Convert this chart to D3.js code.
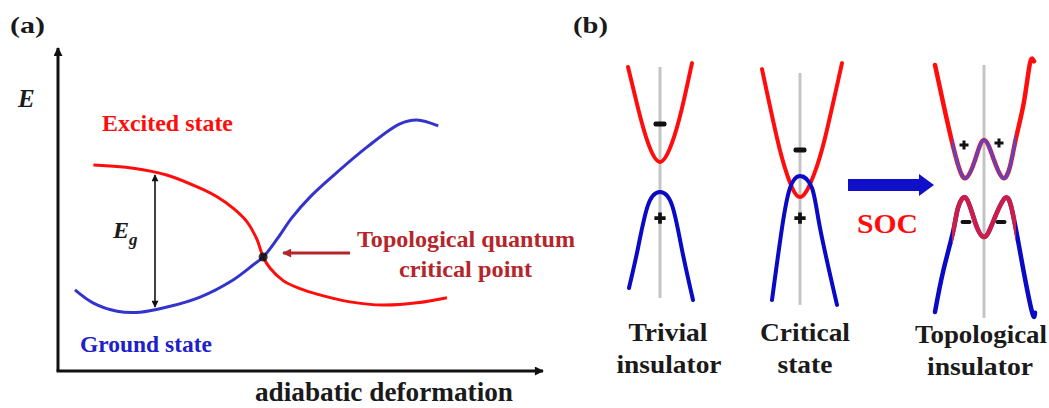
<!DOCTYPE html>
<html>
<head>
<meta charset="utf-8">
<script src="https://cdn.jsdelivr.net/npm/d3@7"></script>
<style>
  body { margin: 0; background: #fff; }
  svg { display: block; }
</style>
</head>
<body>
<svg id="chart" width="1049" height="408"></svg>
<script>
// ---- panel (a): levels vs adiabatic deformation, axis units 0..10 ----
const EXCITED = [[0.73, 6.38], [1.55, 6.28], [2.24, 6.07], [2.93, 5.66], [3.27, 5.4], [3.61, 5.04],
    [3.89, 4.63], [4.1, 4.08], [4.23, 3.53], [4.37, 3.19], [4.65, 2.79], [4.99, 2.55],
    [5.34, 2.38], [6.02, 2.14], [6.71, 2.04], [7.4, 2.11], [8.02, 2.27]];
const GROUND = [[0.35, 2.51], [0.72, 2.11], [1.22, 1.85], [1.69, 1.82], [2.25, 1.98], [2.93, 2.29],
    [3.61, 2.82], [4.02, 3.28], [4.23, 3.53], [4.52, 4.09], [4.82, 4.74], [5.2, 5.39],
    [5.67, 6.04], [6.37, 6.93], [7.05, 7.65], [7.4, 7.77], [7.84, 7.59]];
const GAP_X = 2.0;
const GAP_Y = [1.98, 6.07];
const CRITICAL_POINT = [4.23, 3.53];
const POINTER = [[6.02, 3.65], [4.64, 3.65]];

// ---- panel (b): band sketches, k in -1..1, E in -5..5 ----
const BAND_NAMES = ["trivial", "critical", "topological"];
const BAND_CENTERS = [660, 800, 984];
const MIDLINE = [[4.73, -4.15], [4.5, -4.42], [4.81, -4.92]];

const TRIVIAL_CB = [[-0.64, 4.73], [-0.44, 3.15], [-0.24, 1.81], [0, 1.08], [0.24, 1.81], [0.44, 3.15], [0.64, 4.88]];
const TRIVIAL_VB = [[-0.62, -3.77], [-0.44, -2.23], [-0.24, -0.58], [0, -0.08], [0.24, -0.58], [0.44, -2.3], [0.66, -4.23]];
const CRITICAL_CB = [[-0.76, 4.65], [-0.46, 2.0], [-0.26, 0.6], [0, -0.27], [0.28, 0.6], [0.5, 2.0], [0.84, 4.88]];
const CRITICAL_VB = [[-0.56, -4.23], [-0.36, -1.46], [-0.2, 0.08], [0, 0.54], [0.24, 0.08], [0.4, -1.46], [0.74, -4.42]];
const TOPO_CB = [[-0.98, 4.81], [-0.8, 3.2], [-0.64, 1.85], [-0.5, 0.85], [-0.36, 0.46], [-0.18, 1.15], [0, 1.92],
    [0.2, 1.15], [0.38, 0.46], [0.52, 0.9], [0.64, 2.0], [0.8, 3.4], [0.92, 4.88], [1.0, 4.95]];
const TOPO_VB = [[-0.98, -4.69], [-0.82, -3.15], [-0.62, -1.62], [-0.52, -0.69], [-0.36, -0.31], [-0.18, -1.23], [0, -1.81],
    [0.18, -1.23], [0.42, -0.31], [0.56, -0.77], [0.66, -1.73], [0.78, -3.0], [0.96, -4.69], [1.02, -4.72]];
const TOPO_INVERTED_K = [-0.64, 0.64];

const TRIVIAL_SIGNS = [["-", 0, 2.54], ["+", 0, -1.08]];
const CRITICAL_SIGNS = [["-", 0, 1.54], ["+", 0, -1.08]];
const TOPO_SIGNS = [["+", -0.4, 1.73], ["+", 0.3, 1.81], ["-", -0.36, -1.23], ["-", 0.34, -1.23]];

const BAND_LABELS = [["Trivial", "insulator"], ["Critical", "state"], ["Topological", "insulator"]];

const RED = "#ff0d0d";
const BLUE = "#0a0ac4";
const DARK_RED = "#b5262b";
const SERIF = "'Liberation Serif', 'Times New Roman', serif";

const svg = d3.select("#chart");
const defs = svg.append("defs");

const addMarker = (id, w, h, color) => {
    defs.append("marker")
        .attr("id", id)
        .attr("viewBox", "0 0 10 10")
        .attr("refX", 9).attr("refY", 5)
        .attr("markerUnits", "userSpaceOnUse")
        .attr("markerWidth", w).attr("markerHeight", h)
        .attr("orient", "auto-start-reverse")
        .append("path").attr("d", "M0,0 L10,5 L0,10 Z").attr("fill", color);
};
addMarker("axis-head", 11, 9, "#111");
addMarker("gap-head", 8, 7, "#111");
addMarker("pointer-head", 10, 9, DARK_RED);

const label = (g, str, x, y, size, opts = {}) => {
    const t = g.append("text")
        .attr("x", x).attr("y", y)
        .attr("font-family", SERIF)
        .attr("font-weight", "bold")
        .attr("font-size", size)
        .attr("fill", opts.fill || "#1a1a1a")
        .attr("text-anchor", opts.anchor || "start")
        .text(str);
    if (opts.width) t.attr("textLength", opts.width).attr("lengthAdjust", "spacingAndGlyphs");
    if (opts.italic) t.attr("font-style", "italic");
    return t;
};

// ================= panel (a) =================
const xa = d3.scaleLinear().domain([0, 10]).range([58, 543]);
const ya = d3.scaleLinear().domain([0, 10]).range([371, 48]);
const ga = svg.append("g");

label(ga, "(a)", 10, 33, 24, { width: 35 });

ga.append("line")
    .attr("x1", xa(0)).attr("y1", ya(0)).attr("x2", xa(0)).attr("y2", ya(10))
    .attr("stroke", "#111").attr("stroke-width", 3).attr("marker-end", "url(#axis-head)");
ga.append("line")
    .attr("x1", xa(0) - 1.5).attr("y1", ya(0)).attr("x2", xa(10)).attr("y2", ya(0))
    .attr("stroke", "#111").attr("stroke-width", 3).attr("marker-end", "url(#axis-head)");

const lineA = d3.line().x((d) => xa(d[0])).y((d) => ya(d[1])).curve(d3.curveCatmullRom.alpha(0.5));

ga.append("path").attr("d", lineA(EXCITED))
    .attr("fill", "none").attr("stroke", RED).attr("stroke-width", 3);
ga.append("path").attr("d", lineA(GROUND))
    .attr("fill", "none").attr("stroke", "#3434cc").attr("stroke-width", 3);

ga.append("line")
    .attr("x1", xa(GAP_X)).attr("y1", ya(GAP_Y[0]))
    .attr("x2", xa(GAP_X)).attr("y2", ya(GAP_Y[1]))
    .attr("stroke", "#111").attr("stroke-width", 1.6)
    .attr("marker-start", "url(#gap-head)").attr("marker-end", "url(#gap-head)");

ga.append("circle")
    .attr("cx", xa(CRITICAL_POINT[0])).attr("cy", ya(CRITICAL_POINT[1]))
    .attr("r", 4.5).attr("fill", "#111").attr("opacity", 0.85);

ga.append("line")
    .attr("x1", xa(POINTER[0][0])).attr("y1", ya(POINTER[0][1]))
    .attr("x2", xa(POINTER[1][0])).attr("y2", ya(POINTER[1][1]))
    .attr("stroke", DARK_RED).attr("stroke-width", 3).attr("marker-end", "url(#pointer-head)");

label(ga, "E", 18, 107, 25, { italic: true });
const eg = label(ga, "E", 113, 238, 24, { italic: true });
eg.append("tspan").attr("dy", 7).attr("font-size", 17).text("g");

label(ga, "Excited state", 102, 131, 23, { fill: RED, width: 131 });
label(ga, "Ground state", 80, 352, 23, { fill: "#2020c8", width: 132 });
label(ga, "Topological quantum", 357, 247, 24, { fill: DARK_RED, width: 218 });
label(ga, "critical point", 399, 277, 24, { fill: DARK_RED, width: 133 });
label(ga, "adiabatic deformation", 255, 401, 28, { width: 258 });

// ================= panel (b) =================
const gb = svg.append("g");
label(gb, "(b)", 573, 33, 24, { width: 35 });

const yb = d3.scaleLinear().domain([-5, 5]).range([320, 60]);
const kb = d3.scaleLinear().domain([-1, 1]).range([-50, 50]);
const lineB = d3.line().x((d) => kb(d[0])).y((d) => yb(d[1])).curve(d3.curveNatural);

const BANDS = [[TRIVIAL_CB, TRIVIAL_VB], [CRITICAL_CB, CRITICAL_VB], [TOPO_CB, TOPO_VB]];
const SIGNS = [TRIVIAL_SIGNS, CRITICAL_SIGNS, TOPO_SIGNS];

defs.append("clipPath").attr("id", "inverted")
    .append("rect")
    .attr("x", kb(TOPO_INVERTED_K[0])).attr("y", 0)
    .attr("width", kb(TOPO_INVERTED_K[1]) - kb(TOPO_INVERTED_K[0])).attr("height", 408);

BAND_NAMES.forEach((name, i) => {
    const g = gb.append("g").attr("class", name).attr("transform", `translate(${BAND_CENTERS[i]},0)`);
    g.append("line")
        .attr("x1", 0).attr("x2", 0)
        .attr("y1", yb(MIDLINE[i][0])).attr("y2", yb(MIDLINE[i][1]))
        .attr("stroke", "#c4c4c4").attr("stroke-width", 3);

    const [cb, vb] = BANDS[i];
    if (name === "topological") {
        g.append("path").attr("d", lineB(cb)).attr("fill", "none")
            .attr("stroke", RED).attr("stroke-width", 4.5).attr("stroke-linecap", "round");
        g.append("path").attr("d", lineB(cb)).attr("fill", "none").attr("clip-path", "url(#inverted)")
            .attr("stroke", "#4a4ad6").attr("stroke-width", 3).attr("opacity", 0.9);
        g.append("path").attr("d", lineB(vb)).attr("fill", "none")
            .attr("stroke", BLUE).attr("stroke-width", 4.5).attr("stroke-linecap", "round");
        g.append("path").attr("d", lineB(vb)).attr("fill", "none").attr("clip-path", "url(#inverted)")
            .attr("stroke", "#f02030").attr("stroke-width", 4.5).attr("opacity", 0.85);
    } else {
        g.append("path").attr("d", lineB(cb)).attr("fill", "none")
            .attr("stroke", RED).attr("stroke-width", 4).attr("stroke-linecap", "round");
        g.append("path").attr("d", lineB(vb)).attr("fill", "none")
            .attr("stroke", BLUE).attr("stroke-width", 4).attr("stroke-linecap", "round");
    }

    const small = name === "topological";
    SIGNS[i].forEach(([s, k, e]) => {
        if (s === "+") {
            g.append("path")
                .attr("d", d3.symbol(d3.symbolCross, small ? 45 : 70)())
                .attr("transform", `translate(${kb(k)},${yb(e)})`)
                .attr("fill", "#111");
        } else {
            const w = small ? 11 : 13, h = small ? 4 : 5;
            g.append("rect")
                .attr("x", kb(k) - w / 2).attr("y", yb(e) - h / 2)
                .attr("width", w).attr("height", h).attr("rx", 2)
                .attr("fill", "#111");
        }
    });

    const [l1, l2] = BAND_LABELS[i];
    const w1 = [79, 90, 132][i], w2 = [105, 55, 106][i];
    label(gb, l1, BAND_CENTERS[i] + [8, 5, -3][i], [341, 341, 343][i], 26, { anchor: "middle", width: w1 });
    label(gb, l2, BAND_CENTERS[i] + [9, 5, -4][i], [373, 373, 375][i], 26, { anchor: "middle", width: w2 });
});

// SOC arrow
gb.append("path")
    .attr("d", "M848,179 L919,179 L919,174 L934,185 L919,196 L919,191 L848,191 Z")
    .attr("fill", "#1010c8");
label(gb, "SOC", 857, 233, 27, { fill: RED, width: 61 });
</script>
</body>
</html>
